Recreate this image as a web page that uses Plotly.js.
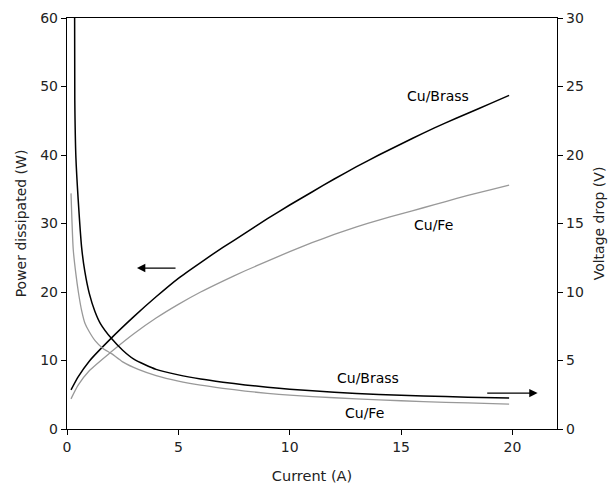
<!DOCTYPE html>
<html>
<head>
<meta charset="utf-8">
<script src="https://cdn.plot.ly/plotly-3.0.1.min.js"></script>
<style>html,body{margin:0;padding:0;background:#fff;}#chart{width:610px;height:489px;}</style>
</head>
<body>
<div id="chart"></div>
<script>
// Power dissipated (W), left axis
const powerCurrent = [0.18, 0.5, 1.0, 2.0, 3.0, 4.0, 5.0, 6.0, 7.0, 8.0, 9.0, 10.0, 11.0, 12.0, 13.0, 14.0, 15.0, 16.0, 17.0, 18.0, 19.0, 19.85];
const powerBrass   = [5.7, 7.6, 9.9, 13.3, 16.4, 19.3, 22.0, 24.3, 26.5, 28.6, 30.7, 32.7, 34.6, 36.5, 38.3, 40.0, 41.6, 43.2, 44.7, 46.1, 47.5, 48.7];
const powerFe      = [4.4, 6.4, 8.5, 11.3, 13.9, 16.2, 18.2, 20.0, 21.6, 23.1, 24.5, 25.9, 27.2, 28.4, 29.5, 30.5, 31.4, 32.3, 33.2, 34.1, 34.9, 35.6];

// Voltage drop (V), right axis
const voltCurrentBrass = [0.33, 0.35, 0.4, 0.5, 0.66, 0.8, 1.0, 1.25, 1.5, 2.0, 2.5, 3.0, 4.0, 5.0, 6.0, 7.0, 8.0, 9.0, 10.0, 12.0, 14.0, 16.0, 18.0, 19.85];
const voltBrass        = [40, 24, 19.8, 16.8, 13.2, 11.5, 9.9, 8.6, 7.7, 6.6, 5.75, 5.1, 4.35, 3.95, 3.65, 3.42, 3.22, 3.05, 2.9, 2.68, 2.52, 2.41, 2.32, 2.26];
const voltCurrentFe    = [0.18, 0.28, 0.4, 0.51, 0.65, 0.81, 1.0, 1.26, 1.6, 2.0, 2.5, 3.2, 4.0, 5.0, 6.0, 7.0, 8.0, 9.0, 10.0, 12.0, 14.0, 16.0, 18.0, 19.85];
const voltFe           = [17.2, 13.1, 11.3, 10.0, 8.7, 7.7, 7.1, 6.45, 5.9, 5.5, 4.9, 4.35, 3.9, 3.5, 3.2, 2.97, 2.77, 2.6, 2.47, 2.28, 2.13, 2.0, 1.9, 1.82];

const xTicks = [0, 5, 10, 15, 20];
const yTicks = [0, 10, 20, 30, 40, 50, 60];
const y2Ticks = [0, 5, 10, 15, 20, 25, 30];

const black = '#000000', gray = '#999999';
const F = 'DejaVu Sans, Verdana, sans-serif';
const sm = 0.6;

const traces = [
  {x: powerCurrent, y: powerBrass, mode: 'lines', line: {color: black, width: 1.5, shape: 'spline', smoothing: sm}, yaxis: 'y', name: 'Cu/Brass power'},
  {x: powerCurrent, y: powerFe, mode: 'lines', line: {color: gray, width: 1.3, shape: 'spline', smoothing: sm}, yaxis: 'y', name: 'Cu/Fe power'},
  {x: voltCurrentBrass, y: voltBrass, mode: 'lines', line: {color: black, width: 1.5, shape: 'spline', smoothing: sm}, yaxis: 'y2', name: 'Cu/Brass voltage'},
  {x: voltCurrentFe, y: voltFe, mode: 'lines', line: {color: gray, width: 1.3, shape: 'spline', smoothing: sm}, yaxis: 'y2', name: 'Cu/Fe voltage'}
];

const layout = {
  width: 610, height: 489,
  margin: {l: 67, r: 53, t: 17.5, b: 59.7},
  paper_bgcolor: '#fff', plot_bgcolor: '#fff',
  showlegend: false,
  font: {family: F, size: 14, color: '#222'},
  xaxis: {
    range: [0, 22], tickvals: xTicks, ticktext: xTicks.map(String),
    showgrid: false, zeroline: false, showline: true, linecolor: '#000', linewidth: 1.2, mirror: true,
    ticks: 'outside', ticklen: 5, tickcolor: '#000',
    title: {text: 'Current (A)', font: {size: 14.5, family: F}, standoff: 16}
  },
  yaxis: {
    range: [0, 60], tickvals: yTicks,
    showgrid: false, zeroline: false, showline: true, linecolor: '#000', linewidth: 1.2,
    ticks: 'outside', ticklen: 5, tickcolor: '#000',
    title: {text: 'Power dissipated (W)', font: {size: 14, family: F}, standoff: 10}
  },
  yaxis2: {
    range: [0, 30], tickvals: y2Ticks, overlaying: 'y', side: 'right',
    showgrid: false, zeroline: false, showline: true, linecolor: '#000', linewidth: 1.2,
    ticks: 'outside', ticklen: 5, tickcolor: '#000',
    title: {text: 'Voltage drop (V)', font: {size: 14, family: F}, standoff: 11}
  },
  annotations: [
    {x: 16.65, y: 24.3, xref: 'x', yref: 'y2', text: 'Cu/Brass', showarrow: false, font: {size: 14, family: F, color: '#000'}},
    {x: 16.45, y: 14.9, xref: 'x', yref: 'y2', text: 'Cu/Fe', showarrow: false, font: {size: 14, family: F, color: '#000'}},
    {x: 13.5, y: 3.7, xref: 'x', yref: 'y2', text: 'Cu/Brass', showarrow: false, font: {size: 14, family: F, color: '#000'}},
    {x: 13.35, y: 1.17, xref: 'x', yref: 'y2', text: 'Cu/Fe', showarrow: false, font: {size: 14, family: F, color: '#000'}},
    {x: 3.14, y: 23.5, ax: 4.94, ay: 23.5, xref: 'x', yref: 'y', axref: 'x', ayref: 'y', text: '', showarrow: true, arrowhead: 2, arrowsize: 1.4, arrowwidth: 1.2, arrowcolor: '#000'},
    {x: 21.13, y: 2.62, ax: 18.8, ay: 2.62, xref: 'x', yref: 'y2', axref: 'x', ayref: 'y2', text: '', showarrow: true, arrowhead: 2, arrowsize: 1.4, arrowwidth: 1.2, arrowcolor: '#000'}
  ]
};

Plotly.newPlot('chart', traces, layout, {displayModeBar: false, staticPlot: true});
</script>
</body>
</html>
